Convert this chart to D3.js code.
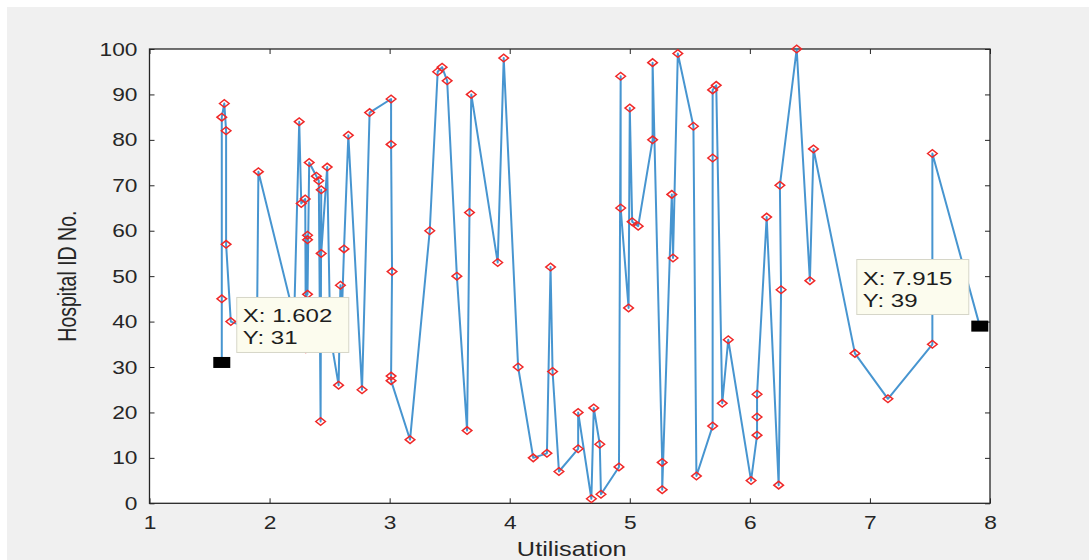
<!DOCTYPE html>
<html>
<head>
<meta charset="utf-8">
<script src="https://cdn.jsdelivr.net/npm/d3@7/dist/d3.min.js"></script>
<style>
  html, body { margin: 0; padding: 0; background: #ffffff; }
  svg { display: block; }
  text { font-family: "Liberation Sans", Arial, Helvetica, sans-serif; }
</style>
</head>
<body>
<svg id="chart" width="1089" height="560"></svg>
<script>
// Utilisation (x) and hospital ID (y), in plotting order
const utilisation = [
  1.602, 1.602, 1.602, 1.623, 1.638, 1.638, 1.677, 1.895, 1.907,
  2.205, 2.247, 2.264, 2.297, 2.302, 2.316, 2.316, 2.316, 2.330, 2.390,
  2.410, 2.425, 2.430, 2.430, 2.480, 2.505, 2.575, 2.590, 2.600, 2.605,
  2.620, 2.656, 2.770, 2.833, 3.012, 3.012, 3.020, 3.012, 3.012, 3.170,
  3.334, 3.400, 3.437, 3.479, 3.560, 3.645, 3.665, 3.680, 3.900, 3.950,
  4.070, 4.196, 4.310, 4.340, 4.357, 4.410, 4.570, 4.570, 4.680, 4.700,
  4.750, 4.760, 4.910, 4.924, 4.924, 4.990, 5.000, 5.020, 5.070, 5.190,
  5.190, 5.270, 5.270, 5.350, 5.360, 5.400, 5.530, 5.555, 5.690, 5.690,
  5.690, 5.720, 5.770, 5.820, 6.010, 6.060, 6.060, 6.060, 6.140, 6.240,
  6.260, 6.250, 6.390, 6.500, 6.530, 6.875, 7.150, 7.520, 7.520, 7.915
];
const hospitalId = [
  31, 45, 85, 88, 82, 57, 40, 38, 73,
  41, 84, 66, 67, 34, 59, 58, 46, 75, 72,
  71, 18, 69, 55, 74, 37, 26, 48, 42, 44,
  56, 81, 25, 86, 89, 79, 51, 28, 27, 14,
  60, 95, 96, 93, 50, 16, 64, 90, 53, 98,
  30, 10, 11, 52, 29, 7, 12, 20, 1, 21,
  13, 2, 8, 94, 65, 43, 87, 62, 61, 80,
  97, 9, 3, 68, 54, 99, 83, 6, 17, 76,
  91, 92, 22, 36, 5, 15, 19, 24, 63, 4,
  47, 70, 100, 49, 78, 33, 23, 35, 77, 39
];

const xTicks = [1, 2, 3, 4, 5, 6, 7, 8];
const yTicks = [0, 10, 20, 30, 40, 50, 60, 70, 80, 90, 100];
const xLabel = "Utilisation";
const yLabel = "Hospital ID No.";

// Data tips shown on the figure (first and last point)
const tipX = ["1.602", "7.915"];
const tipY = ["31", "39"];

const points = utilisation.map((u, i) => ({ x: u, y: hospitalId[i] }));
const tipIndex = [0, points.length - 1];

const W = 1089, H = 560;
const plot = { left: 149.5, right: 990, top: 49, bottom: 503.3 };
const textStretch = 1.3;

const svg = d3.select("#chart");

// figure background
svg.append("rect").attr("x", 0).attr("y", 0).attr("width", W).attr("height", H).attr("fill", "#ffffff");
svg.append("rect").attr("x", 7).attr("y", 7).attr("width", W - 7).attr("height", H - 7).attr("fill", "#f0f0f0");

const x = d3.scaleLinear().domain([1, 8]).range([plot.left, plot.right]);
const y = d3.scaleLinear().domain([0, 100]).range([plot.bottom, plot.top]);

// axes area
svg.append("rect")
  .attr("x", plot.left).attr("y", plot.top)
  .attr("width", plot.right - plot.left).attr("height", plot.bottom - plot.top)
  .attr("fill", "#ffffff");

const axisColor = "#262626";
const tickLen = 5;

function styleAxis(g) {
  g.select(".domain").remove();
  g.selectAll(".tick line").attr("stroke", axisColor).attr("stroke-width", 1);
}

// bottom axis with labels
const gx = svg.append("g")
  .attr("transform", `translate(0,${plot.bottom})`)
  .call(d3.axisBottom(x).tickValues(xTicks).tickSizeInner(-tickLen).tickSizeOuter(0).tickFormat(d3.format("d")));
styleAxis(gx);
gx.selectAll(".tick text").remove();
gx.selectAll(".tick").append("text")
  .attr("transform", `translate(0,26) scale(${textStretch},1)`)
  .attr("text-anchor", "middle")
  .attr("fill", "#262626")
  .attr("font-size", 17.5)
  .text(d => d);

// top axis (ticks only)
const gxt = svg.append("g")
  .attr("transform", `translate(0,${plot.top})`)
  .call(d3.axisTop(x).tickValues(xTicks).tickSizeInner(-tickLen).tickSizeOuter(0).tickFormat(""));
styleAxis(gxt);

// left axis with labels
const gy = svg.append("g")
  .attr("transform", `translate(${plot.left},0)`)
  .call(d3.axisLeft(y).tickValues(yTicks).tickSizeInner(-tickLen).tickSizeOuter(0));
styleAxis(gy);
gy.selectAll(".tick text").remove();
gy.selectAll(".tick").append("text")
  .attr("transform", `translate(-12,6) scale(${textStretch},1)`)
  .attr("text-anchor", "end")
  .attr("fill", "#262626")
  .attr("font-size", 17.5)
  .text(d => d);

// right axis (ticks only)
const gyr = svg.append("g")
  .attr("transform", `translate(${plot.right},0)`)
  .call(d3.axisRight(y).tickValues(yTicks).tickSizeInner(-tickLen).tickSizeOuter(0).tickFormat(""));
styleAxis(gyr);

// axes box
svg.append("rect")
  .attr("x", plot.left).attr("y", plot.top)
  .attr("width", plot.right - plot.left).attr("height", plot.bottom - plot.top)
  .attr("fill", "none").attr("stroke", axisColor).attr("stroke-width", 1.3);

// axis titles
svg.append("text")
  .attr("transform", `translate(${(plot.left + plot.right) / 2 + 2},556) scale(${textStretch},1)`)
  .attr("text-anchor", "middle")
  .attr("fill", "#262626")
  .attr("font-size", 19.5)
  .text(xLabel);

svg.append("text")
  .attr("transform", `translate(76,${(plot.top + plot.bottom) / 2}) scale(${textStretch},1) rotate(-90)`)
  .attr("text-anchor", "middle")
  .attr("fill", "#262626")
  .attr("font-size", 19.5)
  .text(yLabel);

// data line
const line = d3.line().x(d => x(d.x)).y(d => y(d.y));
svg.append("path")
  .datum(points)
  .attr("d", line)
  .attr("fill", "none")
  .attr("stroke", "#2783c8")
  .attr("stroke-opacity", 0.85)
  .attr("stroke-width", 2)
  .attr("stroke-linejoin", "round");

// red diamond markers
const dw = 4.8, dh = 3.8;
svg.append("g").selectAll("path")
  .data(points)
  .join("path")
  .attr("d", d => {
    const cx = x(d.x), cy = y(d.y);
    return `M${cx - dw},${cy} L${cx},${cy - dh} L${cx + dw},${cy} L${cx},${cy + dh} Z`;
  })
  .attr("fill", "none")
  .attr("stroke", "#f02828")
  .attr("stroke-width", 1.5);

// data tips
const tipOffsets = [{ dx: 15, dy: -65 }, { dx: -123, dy: -66.6 }];
tipIndex.forEach((idx, k) => {
  const p = points[idx];
  const cx = x(p.x), cy = y(p.y);
  const bx = cx + tipOffsets[k].dx, by = cy + tipOffsets[k].dy;
  const g = svg.append("g");
  g.append("rect")
    .attr("x", bx).attr("y", by).attr("width", 112).attr("height", 55)
    .attr("fill", "#fcfcee").attr("stroke", "#d6d6c8").attr("stroke-width", 1);
  g.append("text")
    .attr("transform", `translate(${bx + 6},${by + 25}) scale(${textStretch},1)`)
    .attr("fill", "#1e1e1e").attr("font-size", 18.5)
    .text(`X: ${tipX[k]}`);
  g.append("text")
    .attr("transform", `translate(${bx + 6},${by + 47}) scale(${textStretch},1)`)
    .attr("fill", "#1e1e1e").attr("font-size", 18.5)
    .text(`Y: ${tipY[k]}`);
  svg.append("rect")
    .attr("x", cx - 8.5).attr("y", cy - 5.5).attr("width", 17).attr("height", 11)
    .attr("fill", "#000000");
});
</script>
</body>
</html>
